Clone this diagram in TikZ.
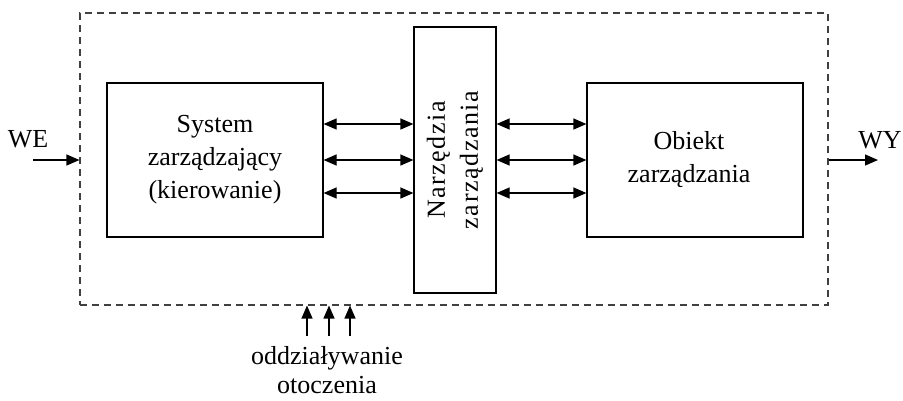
\documentclass[tikz,border=0pt]{standalone}
\usepackage{fontspec}
\setmainfont{Liberation Serif}
\usetikzlibrary{arrows.meta, positioning, calc}

\begin{document}
\begin{tikzpicture}[
        x=1pt, y=-1pt,
        font=\fontsize{26}{33}\selectfont,
        block/.style={rectangle, draw, line width=1.2pt, minimum width=216pt, minimum height=154pt, align=center, inner sep=0pt},
        tools/.style={rectangle, draw, line width=1.2pt, minimum width=82pt, minimum height=266pt, align=center, inner sep=0pt},
        envbox/.style={rectangle, draw=black!75, line width=1.1pt, dash pattern=on 7pt off 5pt, minimum width=748pt, minimum height=292pt, inner sep=0pt},
        arrow/.style={-{Triangle[length=13pt,width=11pt]}, line width=1.2pt},
        dbl/.style={{Triangle[length=13pt,width=11pt]}-{Triangle[length=13pt,width=11pt]}, line width=1.2pt},
    ]
        \useasboundingbox (0,0) rectangle (903,400);

        \node[envbox] (env) at (454,159) {};
        \node[block] (sys) at (215,160) {System\\zarządzający\\(kierowanie)};
        \node[tools] (tool) at (455,160) {};
        \node[rotate=90, align=center] (toollbl) at (tool.center)
            {\addfontfeature{LetterSpace=6}Narzędzia\\\addfontfeature{LetterSpace=6}zarządzania};
        \node[block] (obj) at (695,160) {};
        \node[align=center] (objlbl) at ([xshift=-6pt]obj.center) {Obiekt\\zarządzania};

        \foreach \dy in {36,0,-33} {
            \draw[dbl] ([yshift=\dy pt]sys.east) -- ([yshift=\dy pt]tool.west);
            \draw[dbl] ([yshift=\dy pt]tool.east) -- ([yshift=\dy pt]obj.west);
        }

        % wejscie i wyjscie
        \coordinate (we) at (33,160);
        \coordinate (wy) at (878,160);
        \draw[arrow] (we) -- (env.west |- we);
        \draw[arrow] (env.east |- wy) -- (wy);
        \node (welbl) at (28,139) {WE};
        \node (wylbl) at (880,140) {WY};

        % otoczenie
        \foreach \x in {307,329,350} {
            \coordinate (ot\x) at (\x,336);
            \draw[arrow] (ot\x) -- (ot\x |- env.south);
        }
        \node[align=center, font=\fontsize{26}{29}\selectfont] (otlbl) at (327,370) {oddziaływanie\\otoczenia};
    \end{tikzpicture}
\end{document}
